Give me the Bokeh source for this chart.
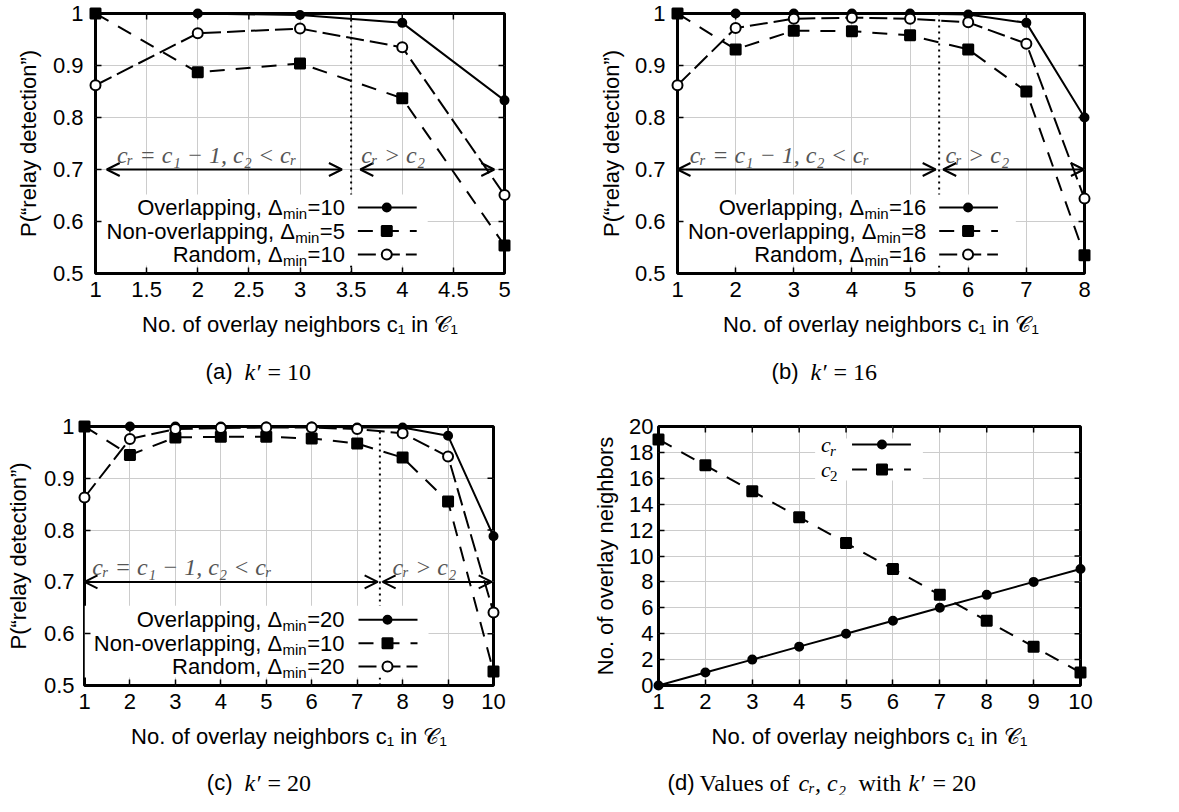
from bokeh.plotting import figure
from bokeh.layouts import row, column
from bokeh.models import Label, Arrow, OpenHead, FixedTicker, Range1d, Spacer
from bokeh.embed import file_html
from bokeh.resources import INLINE

SANS = "Liberation Sans"
SERIF = "Liberation Serif"
GRAY = "#555555"

# ---------------- data ----------------
a_x = [1, 2, 3, 4, 5]
a_overlap = [1.0, 1.0, 0.997, 0.982, 0.833]
a_nonoverlap = [1.0, 0.887, 0.904, 0.837, 0.554]
a_random = [0.862, 0.962, 0.971, 0.935, 0.651]

b_x = [1, 2, 3, 4, 5, 6, 7, 8]
b_overlap = [1.0, 1.0, 1.0, 1.0, 1.0, 0.998, 0.982, 0.800]
b_nonoverlap = [1.0, 0.931, 0.967, 0.966, 0.958, 0.931, 0.850, 0.535]
b_random = [0.862, 0.972, 0.990, 0.992, 0.990, 0.983, 0.942, 0.644]

c_x = [1, 2, 3, 4, 5, 6, 7, 8, 9, 10]
c_overlap = [1.0, 1.0, 1.0, 1.0, 1.0, 1.0, 0.998, 0.998, 0.982, 0.788]
c_nonoverlap = [1.0, 0.945, 0.979, 0.980, 0.980, 0.977, 0.967, 0.940, 0.855, 0.527]
c_random = [0.863, 0.976, 0.995, 0.997, 0.998, 0.998, 0.995, 0.987, 0.942, 0.641]

d_x = [1, 2, 3, 4, 5, 6, 7, 8, 9, 10]
d_cr = [0, 1, 2, 3, 4, 5, 6, 7, 8, 9]
d_c2 = [19, 17, 15, 13, 11, 9, 7, 5, 3, 1]

a_div, b_div, c_div = 3.5, 5.5, 7.5
a_arrows = [(1.11, 3.41), (3.59, 4.90)]
b_arrows = [(1.0, 5.44), (5.57, 7.99)]
c_arrows = [(1.0, 7.45), (7.56, 9.96)]
arrow_y = 0.7

a_xticks = [1, 1.5, 2, 2.5, 3, 3.5, 4, 4.5, 5]
a_xtick_labels = ["1", "1.5", "2", "2.5", "3", "3.5", "4", "4.5", "5"]
b_xticks = [1, 2, 3, 4, 5, 6, 7, 8]
b_xtick_labels = ["1", "2", "3", "4", "5", "6", "7", "8"]
c_xticks = [1, 2, 3, 4, 5, 6, 7, 8, 9, 10]
c_xtick_labels = ["1", "2", "3", "4", "5", "6", "7", "8", "9", "10"]
p_yticks = [0.5, 0.6, 0.7, 0.8, 0.9, 1.0]
p_ytick_labels = ["0.5", "0.6", "0.7", "0.8", "0.9", "1"]
d_yticks = [0, 2, 4, 6, 8, 10, 12, 14, 16, 18, 20]
d_ytick_labels = ["0", "2", "4", "6", "8", "10", "12", "14", "16", "18", "20"]

series_names = ["Overlapping, Δ", "Non-overlapping, Δ", "Random, Δ"]
a_suffix = ["=10", "=5", "=10"]
b_suffix = ["=16", "=8", "=16"]
c_suffix = ["=20", "=10", "=20"]

XLABEL = "No. of overlay neighbors c₁ in 𝒞₁"
YLABEL_P = "P(“relay detection”)"
YLABEL_D = "No. of overlay neighbors"

# ---------------- styles ----------------
STY = {
    "overlap": dict(dash="solid", marker="circle", size=8, fill="black"),
    "non": dict(dash="15 11", marker="square", size=10, fill="black"),
    "random": dict(dash="18 6", marker="circle", size=10, fill="white"),
}
ARIAL_W = {"=": 0.584}


def tw(s, size):
    return sum(ARIAL_W.get(ch, 0.556) for ch in s) * size


class Frame:
    def __init__(self, xr, yr, fw, fh):
        self.x0, self.x1 = xr
        self.y0, self.y1 = yr
        self.fw, self.fh = fw, fh

    def X(self, px):
        return self.x0 + px * (self.x1 - self.x0) / self.fw

    def Y(self, py):
        return self.y1 - py * (self.y1 - self.y0) / self.fh


def style_axis(ax, ticks, labels, standoff):
    ax.ticker = FixedTicker(ticks=ticks)
    ax.major_label_overrides = dict(zip(ticks, labels))
    ax.major_tick_in = 6
    ax.major_tick_out = 0
    ax.minor_tick_in = 0
    ax.minor_tick_out = 0
    ax.major_tick_line_color = "black"
    ax.major_tick_line_width = 1.5
    ax.axis_line_color = None
    ax.major_label_text_font = SANS
    ax.major_label_text_font_size = "22px"
    ax.major_label_text_color = "black"
    ax.major_label_standoff = standoff
    ax.axis_label_text_font = SANS
    ax.axis_label_text_font_size = "22px"
    ax.axis_label_text_font_style = "normal"
    ax.axis_label_text_color = "black"


def make_panel(width, height, bl, bt, fw, fh, xr, yr, xticks, xlabels, yticks, ylabels,
               ylabel, ytick_standoff, ylabel_standoff):
    p = figure(width=width, height=height, x_range=Range1d(*xr), y_range=Range1d(*yr),
               min_border_left=bl, min_border_top=bt,
               min_border_right=width - bl - fw, min_border_bottom=height - bt - fh,
               output_backend="svg", toolbar_location=None, tools="")
    p.outline_line_color = "black"
    p.outline_line_width = 3
    p.outline_line_alpha = 1.0
    p.background_fill_color = "white"
    p.border_fill_color = "white"
    style_axis(p.xaxis[0], xticks, xlabels, 8)
    p.xaxis[0].axis_label = XLABEL
    p.xaxis[0].axis_label_standoff = 12
    style_axis(p.yaxis[0], yticks, ylabels, ytick_standoff)
    p.yaxis[0].axis_label = ylabel
    p.yaxis[0].axis_label_standoff = ylabel_standoff
    p.xgrid.ticker = FixedTicker(ticks=xticks)
    p.ygrid.ticker = FixedTicker(ticks=yticks)
    for g in (p.xgrid[0], p.ygrid[0]):
        g.grid_line_color = "#cccccc"
        g.grid_line_width = 1
    F = Frame(xr, yr, fw, fh)
    # mirrored inward ticks on the top and right edges (gnuplot style)
    p.segment(x0=xticks, y0=[F.y1] * len(xticks), x1=xticks, y1=[F.Y(6)] * len(xticks),
              line_color="black", line_width=1.5)
    p.segment(x0=[F.x1] * len(yticks), y0=yticks, x1=[F.X(fw - 6)] * len(yticks), y1=yticks,
              line_color="black", line_width=1.5)
    return p, F


def series(p, x, y, st):
    p.line(x, y, line_color="black", line_width=2, line_dash=st["dash"])
    r = p.scatter(x, y, marker=st["marker"], size=st["size"], fill_color=st["fill"],
                  line_color="black", line_width=2)
    r.level = "overlay"


def lbl(p, x, y, text, size="22px", font=SANS, align="left", baseline="middle",
        color="black", style="normal"):
    p.add_layout(Label(x=x, y=y, text=text, text_font=font, text_font_size=size,
                       text_align=align, text_baseline=baseline, text_color=color,
                       text_font_style=style))


def legend_p(p, F, suffixes, right_px, l0, l1, mk, rows_px, box):
    bl_, br_, bt_, bb_ = box
    p.quad(left=[F.X(bl_)], right=[F.X(br_)], top=[F.Y(bt_)], bottom=[F.Y(bb_)],
           fill_color="white", line_color=None)
    for name, suf, key, rp in zip(series_names, suffixes, ["overlap", "non", "random"], rows_px):
        st = STY[key]
        y = F.Y(rp)
        ws = tw(suf, 22)
        lbl(p, F.X(right_px), y, suf, align="right")
        lbl(p, F.X(right_px - ws - 0.5), F.Y(rp + 6), "min", size="15px", align="right")
        lbl(p, F.X(right_px - ws - 0.5 - 24.5), y, name, align="right")
        p.line([F.X(l0), F.X(l1)], [y, y], line_color="black", line_width=2, line_dash=st["dash"])
        p.scatter([F.X(mk)], [y], marker=st["marker"], size=st["size"], fill_color=st["fill"],
                  line_color="black", line_width=2)


def regions(p, F, div, arrows, tx1, tx2):
    p.segment(x0=[div], y0=[F.y0], x1=[div], y1=[F.y1], line_color="black",
              line_width=2, line_dash="2 4")
    for (xs, xe) in arrows:
        p.add_layout(Arrow(start=OpenHead(size=13, line_width=2), end=OpenHead(size=13, line_width=2),
                           x_start=xs, y_start=arrow_y, x_end=xe, y_end=arrow_y, line_width=2))
    yb = arrow_y + 2 * (F.y1 - F.y0) / F.fh
    lbl(p, tx1, yb, "cᵣ = c₁ − 1, c₂ < cᵣ", font=SERIF, size="24px", style="italic",
        color=GRAY, baseline="bottom")
    lbl(p, tx2, yb, "cᵣ > c₂", font=SERIF, size="24px", style="italic", color=GRAY,
        baseline="bottom")


def caption_fig(width, height, yc, tag, tag_right, pieces):
    c = figure(width=width, height=height, x_range=Range1d(0, width), y_range=Range1d(height, 0),
               min_border=0, output_backend="svg", toolbar_location=None, tools="",
               x_axis_type=None, y_axis_type=None)
    c.outline_line_color = None
    c.background_fill_color = "white"
    c.border_fill_color = "white"
    lbl(c, tag_right, yc, tag, align="right")
    for (xp, text, style) in pieces:
        lbl(c, xp, yc, text, font=SERIF, size="24px", style=style)
    return c


# ---------------- panel (a) ----------------
pa, Fa = make_panel(570, 345, 82, 13, 410, 260, (1, 5), (0.5, 1.0), a_xticks, a_xtick_labels,
                    p_yticks, p_ytick_labels, YLABEL_P, 12, 9)
regions(pa, Fa, a_div, a_arrows, 1.21, 3.60)
legend_p(pa, Fa, a_suffix, 250, 263, 322, 292, [194, 217.5, 241], (2, 333, 181, 252))
series(pa, a_x, a_overlap, STY["overlap"])
series(pa, a_x, a_nonoverlap, STY["non"])
series(pa, a_x, a_random, STY["random"])
cap_a = caption_fig(582, 45, 26, "(a)", 232, [(244, "k′", "italic"), (267, "= 10", "normal")])

# ---------------- panel (b) ----------------
pb, Fb = make_panel(568, 345, 80, 13, 409, 260, (1, 8), (0.5, 1.0), b_xticks, b_xtick_labels,
                    p_yticks, p_ytick_labels, YLABEL_P, 12, 8)
regions(pb, Fb, b_div, b_arrows, 1.21, 5.61)
legend_p(pb, Fb, b_suffix, 250, 263, 322, 292, [194, 217.5, 241], (2, 340, 181, 252))
series(pb, b_x, b_overlap, STY["overlap"])
series(pb, b_x, b_nonoverlap, STY["non"])
series(pb, b_x, b_random, STY["random"])
cap_b = caption_fig(581, 45, 26, "(b)", 216, [(228, "k′", "italic"), (251, "= 16", "normal")])

# ---------------- panel (c) ----------------
pc, Fc = make_panel(580, 367, 82, 35, 409, 260, (1, 10), (0.5, 1.0), c_xticks, c_xtick_labels,
                    p_yticks, p_ytick_labels, YLABEL_P, 10, 10)
regions(pc, Fc, c_div, c_arrows, 1.17, 7.78)
legend_p(pc, Fc, c_suffix, 260, 274, 333, 303, [194, 217.5, 241], (0, 344, 180, 252))
series(pc, c_x, c_overlap, STY["overlap"])
series(pc, c_x, c_nonoverlap, STY["non"])
series(pc, c_x, c_random, STY["random"])
cap_c = caption_fig(582, 38, 25, "(c)", 232, [(244, "k′", "italic"), (267, "= 20", "normal")])

# ---------------- panel (d) ----------------
pd_, Fd = make_panel(573, 367, 67, 36, 423, 259, (1, 10), (0, 20), c_xticks, c_xtick_labels,
                     d_yticks, d_ytick_labels, YLABEL_D, 5, 8)
pd_.quad(left=[Fd.X(157)], right=[Fd.X(265)], top=[Fd.Y(12)], bottom=[Fd.Y(54)],
         fill_color="white", line_color=None)
for key, sub, rp in [("overlap", "r", 18), ("non", "2", 43)]:
    st = STY[key]
    y = Fd.Y(rp)
    lbl(pd_, Fd.X(163), y, "c", font=SERIF, style="italic")
    lbl(pd_, Fd.X(172), Fd.Y(rp + 6), sub, font=SERIF, size="15px",
        style="italic" if sub == "r" else "normal")
    pd_.line([Fd.X(194), Fd.X(253)], [y, y], line_color="black", line_width=2, line_dash=st["dash"])
    pd_.scatter([Fd.X(224)], [y], marker=st["marker"], size=st["size"], fill_color=st["fill"],
                line_color="black", line_width=2)
series(pd_, d_x, d_cr, STY["overlap"])
series(pd_, d_x, d_c2, STY["non"])
cap_d = caption_fig(581, 38, 25, "(d)", 112,
                    [(117, "Values of", "normal"), (216, "cᵣ, c₂", "italic"),
                     (276, "with", "normal"), (326, "k′", "italic"), (350, "= 20", "normal")])

layout = column(
    row(Spacer(width=12, height=345), pa, Spacer(width=13, height=345), pb),
    row(cap_a, cap_b),
    row(Spacer(width=2, height=367), pc, Spacer(width=8, height=367), pd_),
    row(cap_c, cap_d),
)
open("out.html", "w").write(file_html(layout, INLINE))
